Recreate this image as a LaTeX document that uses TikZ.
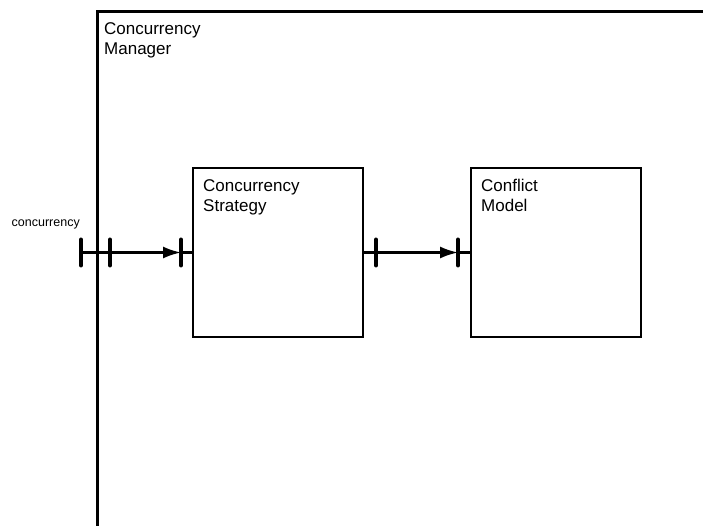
\documentclass[tikz,border=0pt]{standalone}
\usepackage{fontspec}
\setmainfont{Liberation Sans}
\usetikzlibrary{positioning, arrows.meta}

\tikzset{
  frame/.style={draw, line width=2.6pt, inner sep=0pt},
  block/.style={draw, line width=2pt, inner sep=0pt},
  caption/.style={align=left, inner sep=0pt, font=\fontsize{17}{20}\selectfont},
  portname/.style={inner sep=0pt, font=\fontsize{12.5}{15}\selectfont},
  portbar/.style={line width=4pt, line cap=round},
  wire/.style={line width=2.2pt},
  flow/.style={wire, -{Latex[length=18pt,width=12pt]}},
}

\begin{document}
\begin{tikzpicture}[x=1pt, y=-1pt]
  \useasboundingbox (0,0) rectangle (703,526);
  \clip (0,0) rectangle (703,526);

  % enclosing component, runs past the right and bottom edges
  \node[frame, anchor=north west, minimum width=700pt, minimum height=600pt] (manager) at (96,10) {};
  \node[caption, anchor=north west] (manager-name) at ([xshift=8pt,yshift=-12pt]manager.north west) {Concurrency\\Manager};

  % inner components
  \node[block, anchor=north west, minimum width=170pt, minimum height=169pt] (strategy) at (192,167) {};
  \node[block, anchor=north west, minimum width=170pt, minimum height=169pt] (model) at (470,167) {};
  \node[caption, anchor=north west] (strategy-name) at ([xshift=11pt,yshift=-12pt]strategy.north west) {Concurrency\\Strategy};
  \node[caption, anchor=north west] (model-name) at ([xshift=11pt,yshift=-12pt]model.north west) {Conflict\\Model};

  % ports
  \coordinate (mgr-edge) at (manager.west |- strategy.west);
  \coordinate (mgr-outer) at ([xshift=-15pt]mgr-edge);
  \coordinate (mgr-inner) at ([xshift=14pt]mgr-edge);
  \coordinate (strategy-in) at ([xshift=-11pt]strategy.west);
  \coordinate (strategy-out) at ([xshift=12pt]strategy.east);
  \coordinate (model-in) at ([xshift=-12pt]model.west);

  \node[portname, anchor=south east] (port-name) at ([xshift=-1pt,yshift=23pt]mgr-outer) {concurrency};

  \draw[wire] (mgr-outer) -- (mgr-inner);
  \draw[wire] (strategy-in) -- (strategy.west);
  \draw[wire] (strategy.east) -- (strategy-out);
  \draw[wire] (model-in) -- (model.west);
  \foreach \p in {mgr-outer, mgr-inner, strategy-in, strategy-out, model-in}
    \draw[portbar] ([yshift=13pt]\p) -- ([yshift=-13pt]\p);

  % connectors
  \draw[flow] (mgr-inner) -- (strategy-in);
  \draw[flow] (strategy-out) -- (model-in);
\end{tikzpicture}
\end{document}
